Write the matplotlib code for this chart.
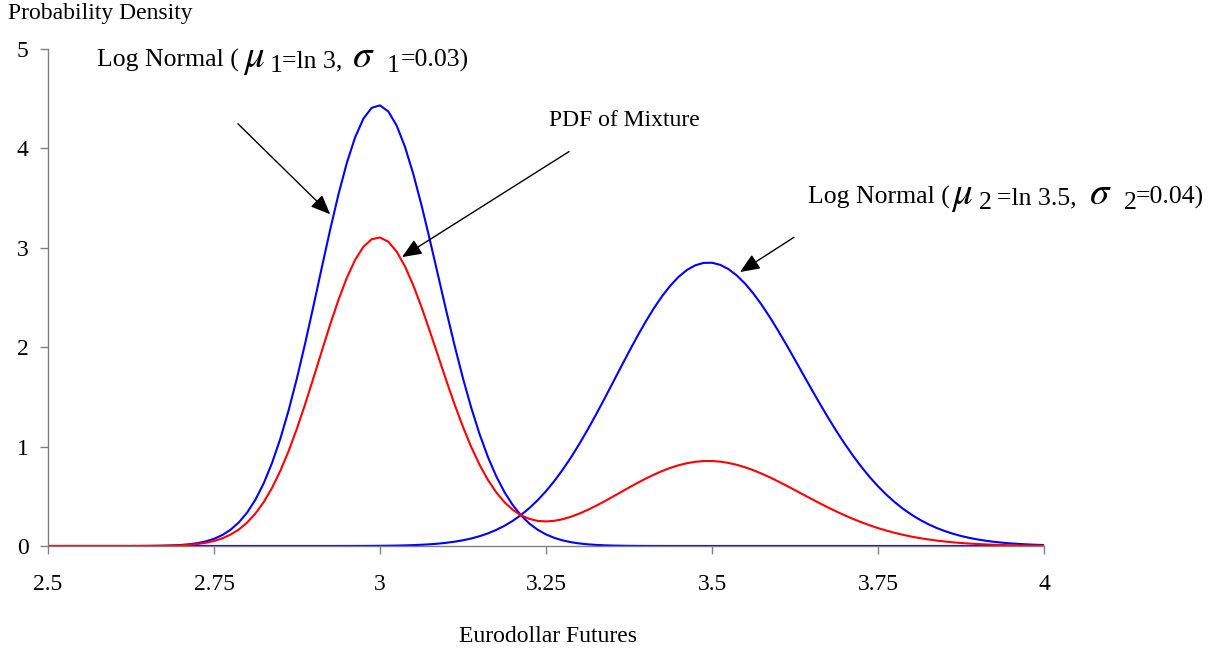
import matplotlib
matplotlib.use("Agg")
import matplotlib.pyplot as plt

plt.rcParams['font.family'] = ['Liberation Serif', 'DejaVu Serif']
plt.rcParams['mathtext.fontset'] = 'stix'

# Eurodollar futures grid (x) and densities
futures = [2.5, 2.5125, 2.525, 2.5375, 2.55, 2.5625, 2.575, 2.5875, 2.6, 2.6125,
           2.625, 2.6375, 2.65, 2.6625, 2.675, 2.6875, 2.7, 2.7125, 2.725, 2.7375,
           2.75, 2.7625, 2.775, 2.7875, 2.8, 2.8125, 2.825, 2.8375, 2.85, 2.8625,
           2.875, 2.8875, 2.9, 2.9125, 2.925, 2.9375, 2.95, 2.9625, 2.975, 2.9875,
           3.0, 3.0125, 3.025, 3.0375, 3.05, 3.0625, 3.075, 3.0875, 3.1, 3.1125,
           3.125, 3.1375, 3.15, 3.1625, 3.175, 3.1875, 3.2, 3.2125, 3.225, 3.2375,
           3.25, 3.2625, 3.275, 3.2875, 3.3, 3.3125, 3.325, 3.3375, 3.35, 3.3625,
           3.375, 3.3875, 3.4, 3.4125, 3.425, 3.4375, 3.45, 3.4625, 3.475, 3.4875,
           3.5, 3.5125, 3.525, 3.5375, 3.55, 3.5625, 3.575, 3.5875, 3.6, 3.6125,
           3.625, 3.6375, 3.65, 3.6625, 3.675, 3.6875, 3.7, 3.7125, 3.725, 3.7375,
           3.75, 3.7625, 3.775, 3.7875, 3.8, 3.8125, 3.825, 3.8375, 3.85, 3.8625,
           3.875, 3.8875, 3.9, 3.9125, 3.925, 3.9375, 3.95, 3.9625, 3.975, 3.9875,
           4.0]

lognormal_1 = [0, 0, 0, 0, 0, 0, 0, 0, 0, 0,
               0, 0.0005, 0.0010, 0.0018, 0.0034, 0.0060, 0.0103, 0.0174, 0.0287, 0.0461,
               0.0721, 0.1100, 0.1637, 0.2379, 0.3373, 0.4674, 0.6325, 0.8369, 1.0818, 1.3675,
               1.6909, 2.0455, 2.4215, 2.8062, 3.1843, 3.5389, 3.8531, 4.1111, 4.2995, 4.4084,
               4.4327, 4.3721, 4.2311, 4.0183, 3.7460, 3.4287, 3.0820, 2.7213, 2.3606, 2.0124,
               1.6861, 1.3888, 1.1250, 0.8962, 0.7024, 0.5413, 0.4108, 0.3067, 0.2256, 0.1633,
               0.1164, 0.0818, 0.0566, 0.0386, 0.0259, 0.0172, 0.0112, 0.0072, 0.0046, 0.0029,
               0.0018, 0.0011, 0.0007, 0.0004, 0.0002, 0, 0, 0, 0, 0,
               0, 0, 0, 0, 0, 0, 0, 0, 0, 0,
               0, 0, 0, 0, 0, 0, 0, 0, 0, 0,
               0, 0, 0, 0, 0, 0, 0, 0, 0, 0,
               0, 0, 0, 0, 0, 0, 0, 0, 0, 0,
               0]

lognormal_2 = [0, 0, 0, 0, 0, 0, 0, 0, 0, 0,
               0, 0, 0, 0, 0, 0, 0, 0, 0, 0,
               0, 0, 0, 0, 0, 0, 0, 0, 0, 0,
               0, 0, 0, 0, 0, 0.0002, 0.0004, 0.0006, 0.0009, 0.0013,
               0.0020, 0.0029, 0.0043, 0.0062, 0.0088, 0.0124, 0.0172, 0.0237, 0.0323, 0.0434,
               0.0577, 0.0758, 0.0986, 0.1268, 0.1615, 0.2034, 0.2534, 0.3125, 0.3815, 0.4611,
               0.5516, 0.6534, 0.7664, 0.8903, 1.0243, 1.1675, 1.3182, 1.4746, 1.6346, 1.7956,
               1.9547, 2.1091, 2.2559, 2.3921, 2.5148, 2.6214, 2.7098, 2.7778, 2.8244, 2.8484,
               2.8496, 2.8281, 2.7849, 2.7211, 2.6383, 2.5385, 2.4242, 2.2978, 2.1619, 2.0194,
               1.8726, 1.7241, 1.5760, 1.4307, 1.2898, 1.1548, 1.0270, 0.9072, 0.7960, 0.6938,
               0.6009, 0.5170, 0.4421, 0.3756, 0.3171, 0.2661, 0.2219, 0.1839, 0.1515, 0.1241,
               0.1010, 0.0818, 0.0658, 0.0527, 0.0419, 0.0332, 0.0261, 0.0204, 0.0159, 0.0123,
               0.0095]

mixture = [0, 0, 0, 0, 0, 0, 0, 0, 0, 0,
           0, 0.0004, 0.0007, 0.0013, 0.0024, 0.0042, 0.0072, 0.0122, 0.0201, 0.0323,
           0.0505, 0.0770, 0.1146, 0.1665, 0.2361, 0.3272, 0.4428, 0.5858, 0.7573, 0.9573,
           1.1836, 1.4319, 1.6951, 1.9643, 2.2290, 2.4773, 2.6973, 2.8780, 3.0100, 3.0863,
           3.1035, 3.0614, 2.9631, 2.8147, 2.6248, 2.4038, 2.1626, 1.9120, 1.6621, 1.4217,
           1.1976, 0.9949, 0.8171, 0.6653, 0.5402, 0.4399, 0.3636, 0.3085, 0.2724, 0.2526,
           0.2470, 0.2533, 0.2695, 0.2941, 0.3254, 0.3623, 0.4033, 0.4474, 0.4936, 0.5407,
           0.5877, 0.6335, 0.6773, 0.7179, 0.7545, 0.7864, 0.8129, 0.8333, 0.8473, 0.8545,
           0.8549, 0.8484, 0.8355, 0.8163, 0.7915, 0.7616, 0.7273, 0.6893, 0.6486, 0.6058,
           0.5618, 0.5172, 0.4728, 0.4292, 0.3869, 0.3464, 0.3081, 0.2722, 0.2388, 0.2081,
           0.1803, 0.1551, 0.1326, 0.1127, 0.0951, 0.0798, 0.0666, 0.0552, 0.0455, 0.0372,
           0.0303, 0.0245, 0.0197, 0.0158, 0.0126, 0.0100, 0.0078, 0.0061, 0.0048, 0.0037,
           0.0029]

xticks = [2.5, 2.75, 3, 3.25, 3.5, 3.75, 4]
xtick_labels = ['2.5', '2.75', '3', '3.25', '3.5', '3.75', '4']
yticks = [0, 1, 2, 3, 4, 5]

W, H = 1221, 651
fig = plt.figure(figsize=(W / 100, H / 100), dpi=100)
ax = fig.add_axes([48/W, 1 - 546/H, 996/W, 497/H])

ax.plot(futures, lognormal_1, color='#0000FF', lw=1.5, solid_joinstyle='round')
ax.plot(futures, lognormal_2, color='#0000FF', lw=1.5, solid_joinstyle='round')
ax.plot(futures, mixture, color='#FF0000', lw=1.5, solid_joinstyle='round')

ax.set_xlim(2.5, 4.0)
ax.set_ylim(0, 5)
ax.set_xticks(xticks)
ax.set_xticklabels(xtick_labels)
ax.set_yticks(yticks)
for side in ['top', 'right']:
    ax.spines[side].set_visible(False)
for side in ['left', 'bottom']:
    ax.spines[side].set_color('#808080')
    ax.spines[side].set_linewidth(1.0)
ax.tick_params(axis='both', colors='#808080', labelcolor='black', length=6,
               width=1.0, labelsize=17)
ax.tick_params(axis='x', pad=14)
ax.tick_params(axis='y', pad=8)

# labels
fig.text(8/W, 1 - 3/H, 'Probability Density', fontsize=17, ha='left', va='top')
fig.text(548/W, 1 - 636/H, 'Eurodollar Futures', fontsize=17, ha='center', va='center')
ax.text(3.2545, 4.28, 'PDF of Mixture', fontsize=17, ha='left', va='center')


# the Log Normal labels mix plain text with big greek letters, so put them
# together piece by piece (x in pixels, baseline in pixels)
def put(px, py, s, size=18.5):
    fig.text(px / W, 1 - py / H, s, fontsize=size, ha='left', va='baseline')


put(97, 67, 'Log Normal (')
put(243, 67, r'$\mu$', 28)
put(270, 72, '1')
put(282, 67, '=ln 3,')
put(352, 67, r'$\sigma$', 28)
put(387, 72, '1')
put(401, 67, '=0.03)')

put(808, 204, 'Log Normal (')
put(951, 204, r'$\mu$', 28)
put(979, 209, '2')
put(997, 204, '=ln 3.5,')
put(1089, 204, r'$\sigma$', 28)
put(1124, 209, '2')
put(1136, 204, '=0.04)')

arrow = dict(arrowstyle='-|>,head_length=0.6,head_width=0.25', color='black',
             lw=1.0, mutation_scale=20, shrinkA=0, shrinkB=0)
ax.annotate('', xy=(2.925, 3.337), xytext=(2.786, 4.248), arrowprops=arrow)
ax.annotate('', xy=(3.0331, 2.906), xytext=(3.2847, 3.968), arrowprops=arrow)
ax.annotate('', xy=(3.5422, 2.756), xytext=(3.6235, 3.106), arrowprops=arrow)

fig.savefig('out.png', dpi=100)
